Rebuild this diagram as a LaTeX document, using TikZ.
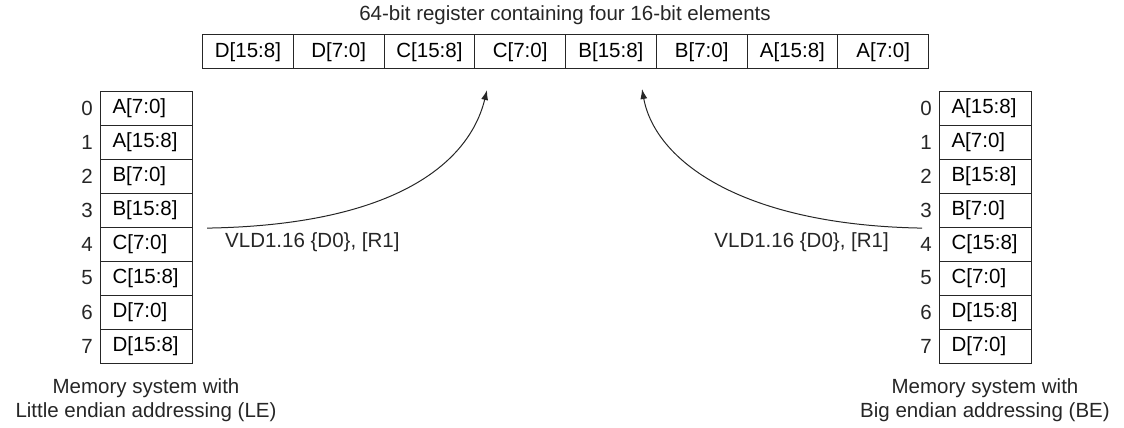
\documentclass[tikz,border=0pt]{standalone}
\usepackage{fontspec}
\setmainfont{Liberation Sans}
\usetikzlibrary{arrows.meta,calc}
\begin{document}
\begin{tikzpicture}[x=1pt,y=-1pt,
  font=\fontsize{20.5}{24}\selectfont,
  regcell/.style={draw=black!85,line width=1.1pt,minimum width=90.75pt,minimum height=34pt,inner sep=0pt,anchor=north west},
  memcell/.style={draw=black!85,line width=1.1pt,minimum width=92pt,minimum height=34pt,inner sep=0pt,text width=68pt,align=left,anchor=north west},
  addr/.style={inner sep=0pt,text=black!85},
  lbl/.style={inner sep=0pt,text=black!85,align=center},
  conn/.style={line width=1pt,draw=black!85,-{Latex[length=10pt,width=7pt]}}]
\useasboundingbox (0,0) rectangle (1124,428);
\node[lbl] (title) at (565,15) {64-bit register containing four 16-bit elements};
\foreach \t [count=\i from 0] in {D[15:8],D[7:0],C[15:8],C[7:0],B[15:8],B[7:0],A[15:8],A[7:0]}{
  \node[regcell] (reg\i) at (202+\i*90.75,34.3) {\t};
}
\foreach \t [count=\i from 0] in {A[7:0],A[15:8],B[7:0],B[15:8],C[7:0],C[15:8],D[7:0],D[15:8]}{
  \node[memcell] (L\i) at (100,91+\i*34) {\t};
  \node[addr] (LA\i) at (87,108+\i*34) {\i};
}
\foreach \t [count=\i from 0] in {A[15:8],A[7:0],B[15:8],B[7:0],C[15:8],C[7:0],D[15:8],D[7:0]}{
  \node[memcell] (R\i) at (939,91+\i*34) {\t};
  \node[addr] (RA\i) at (926,108+\i*34) {\i};
}
\node[lbl] (capL) at (146,400) {Memory system with\\Little endian addressing (LE)};
\node[lbl] (capR) at (985,400) {Memory system with\\Big endian addressing (BE)};
\coordinate (ls) at ($(L3.south east)+(14,0)$);
\coordinate (lt) at (487,90);
\coordinate (rs) at ($(R3.south west)+(-17,0)$);
\coordinate (rt) at (642,89);
\draw[conn] (ls) .. controls (400,225) and (470,160) .. (lt);
\draw[conn] (rs) .. controls (740,225) and (655,160) .. (rt);
\node[lbl,anchor=west] (instL) at (225,242) {VLD1.16 \{D0\}, [R1]};
\node[lbl,anchor=east] (instR) at (889,242) {VLD1.16 \{D0\}, [R1]};
\end{tikzpicture}
\end{document}
